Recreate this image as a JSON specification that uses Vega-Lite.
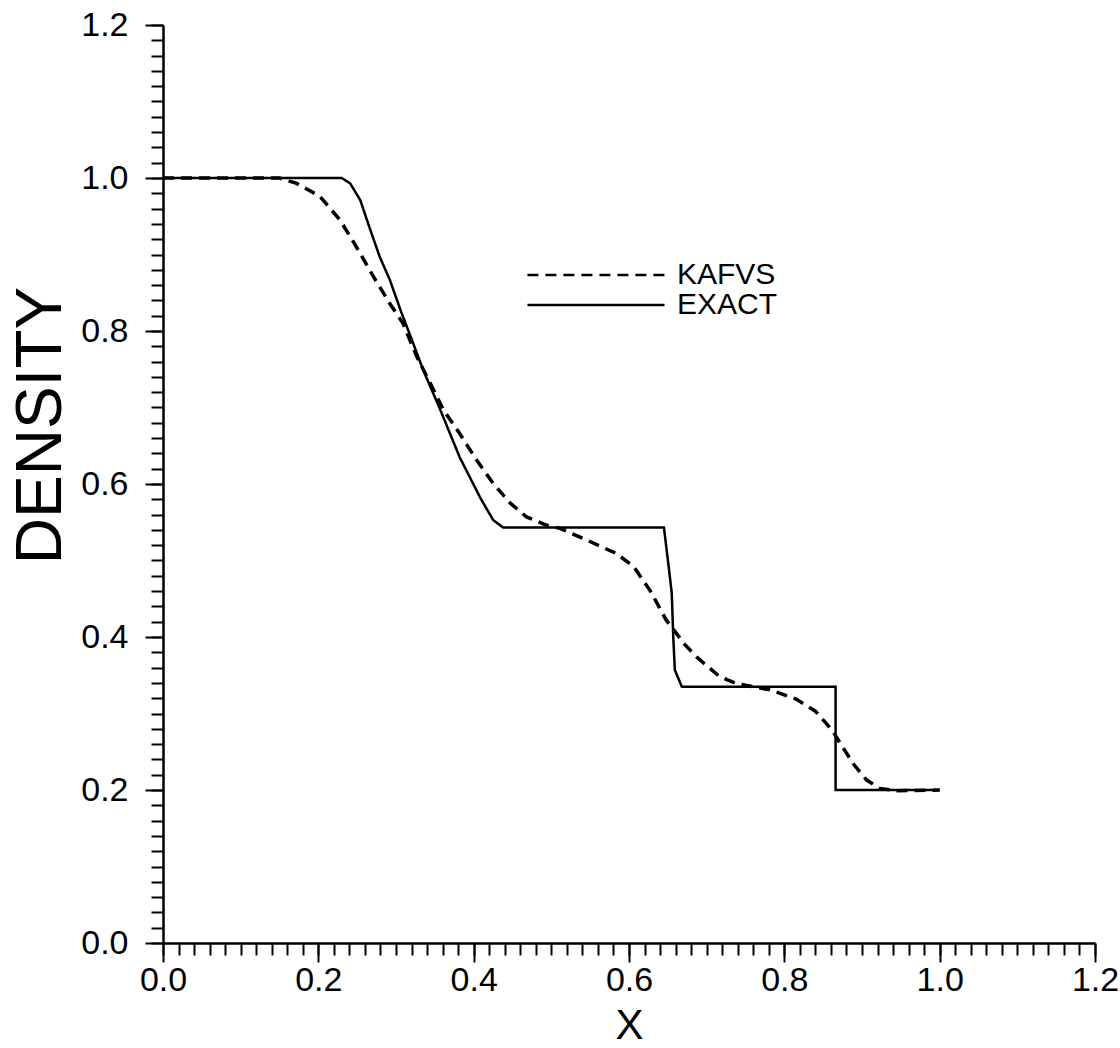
{
  "$schema": "https://vega.github.io/schema/vega-lite/v6.json",
  "width": 932,
  "height": 918,
  "autosize": {"type": "none"},
  "padding": {"left": 163, "top": 25, "right": 25, "bottom": 105},
  "background": "white",
  "config": {"view": {"stroke": null}, "font": "Liberation Sans"},
  "data": {"values": [
    {"series": "EXACT", "i": 1, "x": 0.0, "y": 1.0},
    {"series": "EXACT", "i": 2, "x": 0.230, "y": 1.0},
    {"series": "EXACT", "i": 3, "x": 0.241, "y": 0.993},
    {"series": "EXACT", "i": 4, "x": 0.254, "y": 0.971},
    {"series": "EXACT", "i": 5, "x": 0.267, "y": 0.932},
    {"series": "EXACT", "i": 6, "x": 0.279, "y": 0.897},
    {"series": "EXACT", "i": 7, "x": 0.292, "y": 0.867},
    {"series": "EXACT", "i": 8, "x": 0.307, "y": 0.824},
    {"series": "EXACT", "i": 9, "x": 0.321, "y": 0.787},
    {"series": "EXACT", "i": 10, "x": 0.335, "y": 0.749},
    {"series": "EXACT", "i": 11, "x": 0.357, "y": 0.697},
    {"series": "EXACT", "i": 12, "x": 0.382, "y": 0.635},
    {"series": "EXACT", "i": 13, "x": 0.408, "y": 0.583},
    {"series": "EXACT", "i": 14, "x": 0.425, "y": 0.553},
    {"series": "EXACT", "i": 15, "x": 0.438, "y": 0.543},
    {"series": "EXACT", "i": 16, "x": 0.645, "y": 0.543},
    {"series": "EXACT", "i": 17, "x": 0.650, "y": 0.501},
    {"series": "EXACT", "i": 18, "x": 0.655, "y": 0.458},
    {"series": "EXACT", "i": 19, "x": 0.657, "y": 0.400},
    {"series": "EXACT", "i": 20, "x": 0.659, "y": 0.357},
    {"series": "EXACT", "i": 21, "x": 0.668, "y": 0.335},
    {"series": "EXACT", "i": 22, "x": 0.866, "y": 0.335},
    {"series": "EXACT", "i": 23, "x": 0.866, "y": 0.200},
    {"series": "EXACT", "i": 24, "x": 1.0, "y": 0.200},
    {"series": "KAFVS", "i": 1, "x": 0.0, "y": 1.0},
    {"series": "KAFVS", "i": 2, "x": 0.150, "y": 1.0},
    {"series": "KAFVS", "i": 3, "x": 0.172, "y": 0.993},
    {"series": "KAFVS", "i": 4, "x": 0.202, "y": 0.976},
    {"series": "KAFVS", "i": 5, "x": 0.228, "y": 0.945},
    {"series": "KAFVS", "i": 6, "x": 0.249, "y": 0.910},
    {"series": "KAFVS", "i": 7, "x": 0.271, "y": 0.871},
    {"series": "KAFVS", "i": 8, "x": 0.292, "y": 0.836},
    {"series": "KAFVS", "i": 9, "x": 0.309, "y": 0.810},
    {"series": "KAFVS", "i": 10, "x": 0.327, "y": 0.766},
    {"series": "KAFVS", "i": 11, "x": 0.344, "y": 0.732},
    {"series": "KAFVS", "i": 12, "x": 0.361, "y": 0.697},
    {"series": "KAFVS", "i": 13, "x": 0.382, "y": 0.666},
    {"series": "KAFVS", "i": 14, "x": 0.404, "y": 0.631},
    {"series": "KAFVS", "i": 15, "x": 0.425, "y": 0.601},
    {"series": "KAFVS", "i": 16, "x": 0.447, "y": 0.575},
    {"series": "KAFVS", "i": 17, "x": 0.468, "y": 0.557},
    {"series": "KAFVS", "i": 18, "x": 0.494, "y": 0.546},
    {"series": "KAFVS", "i": 19, "x": 0.511, "y": 0.542},
    {"series": "KAFVS", "i": 20, "x": 0.545, "y": 0.527},
    {"series": "KAFVS", "i": 21, "x": 0.584, "y": 0.509},
    {"series": "KAFVS", "i": 22, "x": 0.606, "y": 0.492},
    {"series": "KAFVS", "i": 23, "x": 0.627, "y": 0.461},
    {"series": "KAFVS", "i": 24, "x": 0.648, "y": 0.422},
    {"series": "KAFVS", "i": 25, "x": 0.672, "y": 0.390},
    {"series": "KAFVS", "i": 26, "x": 0.687, "y": 0.374},
    {"series": "KAFVS", "i": 27, "x": 0.696, "y": 0.366},
    {"series": "KAFVS", "i": 28, "x": 0.717, "y": 0.348},
    {"series": "KAFVS", "i": 29, "x": 0.739, "y": 0.339},
    {"series": "KAFVS", "i": 30, "x": 0.781, "y": 0.331},
    {"series": "KAFVS", "i": 31, "x": 0.815, "y": 0.319},
    {"series": "KAFVS", "i": 32, "x": 0.840, "y": 0.303},
    {"series": "KAFVS", "i": 33, "x": 0.854, "y": 0.287},
    {"series": "KAFVS", "i": 34, "x": 0.863, "y": 0.276},
    {"series": "KAFVS", "i": 35, "x": 0.872, "y": 0.261},
    {"series": "KAFVS", "i": 36, "x": 0.889, "y": 0.234},
    {"series": "KAFVS", "i": 37, "x": 0.906, "y": 0.213},
    {"series": "KAFVS", "i": 38, "x": 0.923, "y": 0.202},
    {"series": "KAFVS", "i": 39, "x": 0.944, "y": 0.199},
    {"series": "KAFVS", "i": 40, "x": 1.0, "y": 0.200}
  ]},
  "resolve": {"axis": {"x": "independent", "y": "independent"}},
  "layer": [
    {
      "transform": [{"filter": "datum.series === 'EXACT'"}],
      "mark": {"type": "line", "color": "black", "strokeWidth": 2.5},
      "encoding": {
        "x": {
          "field": "x", "type": "quantitative",
          "scale": {"domain": [0, 1.2], "nice": false, "zero": false},
          "axis": {
            "orient": "bottom",
            "values": [0,0.02,0.04,0.06,0.08,0.1,0.12,0.14,0.16,0.18,0.2,0.22,0.24,0.26,0.28,0.3,0.32,0.34,0.36,0.38,0.4,0.42,0.44,0.46,0.48,0.5,0.52,0.54,0.56,0.58,0.6,0.62,0.64,0.66,0.68,0.7,0.72,0.74,0.76,0.78,0.8,0.82,0.84,0.86,0.88,0.9,0.92,0.94,0.96,0.98,1,1.02,1.04,1.06,1.08,1.1,1.12,1.14,1.16,1.18,1.2],
            "grid": false, "labels": false, "title": null,
            "domainColor": "black", "domainWidth": 2.5,
            "tickColor": "black", "tickWidth": 2, "tickSize": 12
          }
        },
        "y": {
          "field": "y", "type": "quantitative",
          "scale": {"domain": [0, 1.2], "nice": false, "zero": false},
          "axis": {
            "orient": "left",
            "values": [0,0.02,0.04,0.06,0.08,0.1,0.12,0.14,0.16,0.18,0.2,0.22,0.24,0.26,0.28,0.3,0.32,0.34,0.36,0.38,0.4,0.42,0.44,0.46,0.48,0.5,0.52,0.54,0.56,0.58,0.6,0.62,0.64,0.66,0.68,0.7,0.72,0.74,0.76,0.78,0.8,0.82,0.84,0.86,0.88,0.9,0.92,0.94,0.96,0.98,1,1.02,1.04,1.06,1.08,1.1,1.12,1.14,1.16,1.18,1.2],
            "grid": false, "labels": false, "title": null,
            "domainColor": "black", "domainWidth": 2.5,
            "tickColor": "black", "tickWidth": 2, "tickSize": 12
          }
        },
        "order": {"field": "i", "type": "quantitative"},
        "strokeDash": {
          "field": "series", "type": "nominal",
          "scale": {"domain": ["KAFVS", "EXACT"], "range": [[11, 7], [1, 0]]},
          "legend": {
            "orient": "none", "legendX": 418, "legendY": 235, "title": null,
            "symbolType": "M-10,0H10", "symbolSize": 188, "symbolStrokeWidth": 2.5, "symbolStrokeColor": "black",
            "labelFontSize": 30, "labelColor": "black", "labelOffset": 66,
            "rowPadding": 0, "padding": 0
          }
        }
      }
    },
    {
      "transform": [{"filter": "datum.series === 'KAFVS'"}],
      "mark": {"type": "line", "color": "black", "strokeWidth": 3.5},
      "encoding": {
        "x": {
          "field": "x", "type": "quantitative",
          "scale": {"domain": [0, 1.2], "nice": false, "zero": false},
          "axis": {
            "orient": "bottom",
            "values": [0, 0.2, 0.4, 0.6, 0.8, 1.0, 1.2],
            "format": ".1f",
            "grid": false, "domain": false,
            "tickColor": "black", "tickWidth": 2, "tickSize": 19,
            "labelFontSize": 34, "labelColor": "black", "labelPadding": 1,
            "labelOverlap": false, "labelBound": false, "labelFlush": false,
            "title": "X", "titleFontSize": 42, "titleFontWeight": "normal", "titleColor": "black",
            "titleY": 95, "titleBaseline": "alphabetic"
          }
        },
        "y": {
          "field": "y", "type": "quantitative",
          "scale": {"domain": [0, 1.2], "nice": false, "zero": false},
          "axis": {
            "orient": "left",
            "values": [0, 0.2, 0.4, 0.6, 0.8, 1.0, 1.2],
            "format": ".1f",
            "grid": false, "domain": false,
            "tickColor": "black", "tickWidth": 2, "tickSize": 18,
            "labelFontSize": 34, "labelColor": "black", "labelPadding": 17,
            "labelOverlap": false, "labelBound": false, "labelFlush": false,
            "title": "DENSITY", "titleFontSize": 64, "titleFontWeight": "normal", "titleColor": "black",
            "titleX": -103, "titleY": 400, "titleBaseline": "alphabetic", "titleAngle": -90
          }
        },
        "order": {"field": "i", "type": "quantitative"},
        "strokeDash": {"field": "series", "type": "nominal"}
      }
    }
  ]
}
